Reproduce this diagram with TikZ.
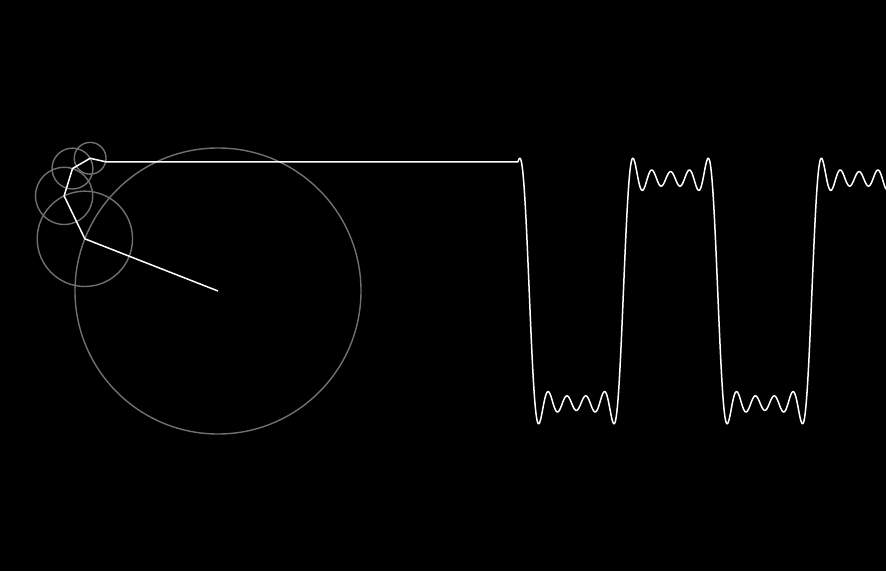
\documentclass[tikz,border=0pt]{standalone}
\usetikzlibrary{calc}
\definecolor{ringgray}{RGB}{112,112,112}
\begin{document}
\begin{tikzpicture}[x=1pt,y=1pt,
  ring/.style={draw=ringgray,line width=1.4pt},
  arm/.style={draw=white,line width=1.5pt,line join=round},
  wave/.style={draw=white,line width=1.5pt,line join=round},
  declare function={th(\s)=158.6+\s*1.9098593;}]
\fill[black] (0,0) rectangle (886,571);
\useasboundingbox (0,0) rectangle (886,571);
\def\Ang{158.6}
\coordinate (c0) at (218,280);
\coordinate (c1) at ($(c0)+(\Ang:143pt)$);
\coordinate (c2) at ($(c1)+({3*\Ang}:143pt/3)$);
\coordinate (c3) at ($(c2)+({5*\Ang}:143pt/5)$);
\coordinate (c4) at ($(c3)+({7*\Ang}:143pt/7)$);
\coordinate (c5) at ($(c4)+({9*\Ang}:143pt/9)$);
\coordinate (wx) at (518,0);
\coordinate (w0) at (c5 -| wx);
\draw[ring] (c0) circle[radius=143pt];
\draw[ring] (c1) circle[radius=143pt/3];
\draw[ring] (c2) circle[radius=143pt/5];
\draw[ring] (c3) circle[radius=143pt/7];
\draw[ring] (c4) circle[radius=143pt/9];
\draw[arm] (c0) -- (c1) -- (c2) -- (c3) -- (c4) -- (c5) -- (w0);
\draw[wave] plot[domain=0:368,samples=900]
  ({518+\x},{280+143*(sin(th(\x))+sin(3*th(\x))/3+sin(5*th(\x))/5+sin(7*th(\x))/7+sin(9*th(\x))/9)});
\end{tikzpicture}
\end{document}
